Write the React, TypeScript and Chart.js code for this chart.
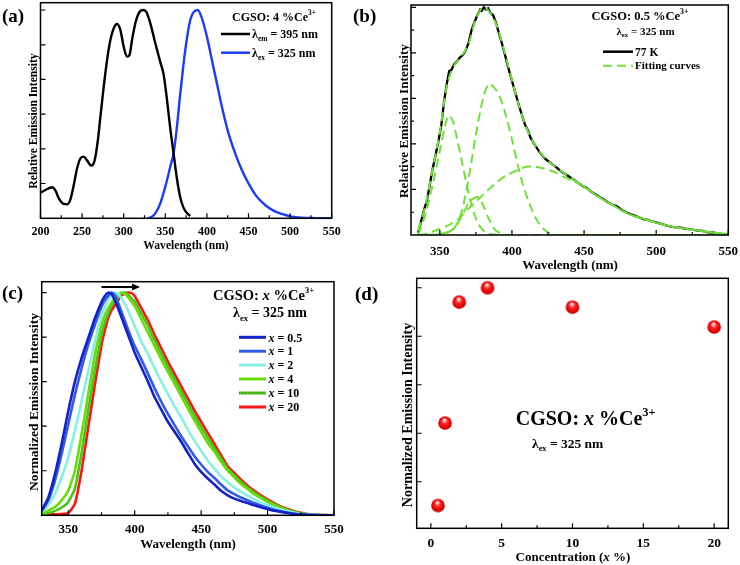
import React, { useEffect, useRef } from 'react';
import { Chart, registerables } from 'chart.js';
Chart.register(...registerables);

const W = 740;
const H = 565;
const XH = 30; // reserved height of the x-axis label band
const FONT = '"Liberation Serif", "Times New Roman", Times, serif';

// ---------------- Panel (a): excitation / emission ----------------
const aExcWl = [200, 206, 214, 218, 222, 228, 232, 236, 240, 244, 248, 252, 256, 261, 265, 269, 272, 276, 280, 284, 288, 292, 296, 300, 304, 307, 310, 314, 318, 323, 327, 332, 338, 344, 348, 352, 356, 360, 364, 368, 372, 376, 380];
const aExcInt = [0.123, 0.136, 0.149, 0.133, 0.096, 0.069, 0.067, 0.091, 0.16, 0.24, 0.288, 0.296, 0.277, 0.253, 0.277, 0.376, 0.488, 0.632, 0.76, 0.856, 0.912, 0.933, 0.904, 0.824, 0.776, 0.784, 0.856, 0.936, 0.984, 1.0, 0.992, 0.936, 0.84, 0.75, 0.69, 0.57, 0.43, 0.31, 0.19, 0.1, 0.05, 0.025, 0.011];
const aEmWl = [329, 334, 338, 344, 350, 356, 360, 364, 368, 372, 376, 380, 384, 389, 394, 400, 406, 412, 418, 426, 434, 442, 450, 460, 470, 480, 490, 502, 514, 530, 550];
const aEmInt = [0, 0.008, 0.024, 0.072, 0.152, 0.248, 0.312, 0.44, 0.6, 0.744, 0.864, 0.952, 0.99, 1.0, 0.96, 0.872, 0.76, 0.648, 0.536, 0.408, 0.312, 0.232, 0.168, 0.104, 0.064, 0.037, 0.021, 0.008, 0.003, 0.001, 0];
const aXLabels = [200, 250, 300, 350, 400, 450, 500, 550];
const aXMinor = [225, 275, 325, 375, 425, 475, 525];
const aYTicks = [0.167, 0.333, 0.5, 0.667, 0.833, 1.0];

// ---------------- Panel (b): 77 K spectrum and Gaussian fits ----------------
const bWl = [335, 337, 339, 341, 343, 345, 347, 349, 351, 353, 355, 356.5, 358, 360, 362, 364, 366, 368, 370, 372, 374, 376, 378, 379, 380.5, 382, 383.5, 385, 387, 389, 391, 393, 395, 397, 399, 401, 403, 405, 407, 409, 411, 413, 415, 417, 419, 421, 423, 425, 428, 431, 434, 437, 440, 443, 446, 449, 452, 455, 458, 461, 464, 467, 470, 473, 476, 479, 482, 485, 488, 491, 494, 497, 500, 504, 508, 512, 516, 520, 524, 528, 532, 536, 540, 544, 548, 550];
const b77K = [0.01, 0.06, 0.11, 0.15, 0.22, 0.29, 0.35, 0.41, 0.48, 0.59, 0.67, 0.72, 0.725, 0.75, 0.763, 0.78, 0.79, 0.812, 0.845, 0.9, 0.935, 0.965, 0.99, 0.985, 1.0, 0.99, 0.995, 0.975, 0.965, 0.93, 0.885, 0.842, 0.795, 0.745, 0.7, 0.655, 0.61, 0.565, 0.525, 0.485, 0.46, 0.425, 0.405, 0.385, 0.365, 0.35, 0.335, 0.325, 0.31, 0.296, 0.28, 0.268, 0.255, 0.243, 0.228, 0.215, 0.205, 0.19, 0.178, 0.166, 0.155, 0.142, 0.132, 0.125, 0.11, 0.1, 0.092, 0.085, 0.078, 0.07, 0.066, 0.06, 0.055, 0.048, 0.04, 0.035, 0.033, 0.028, 0.025, 0.02, 0.018, 0.012, 0.01, 0.006, 0.002, 0.0];
const bFitWl = [335, 340, 345, 350, 355, 360, 365, 370, 375, 380, 385, 390, 395, 400, 405, 410, 415, 420, 425, 430, 440, 450, 460, 470, 480, 490, 500, 510, 520, 530, 540, 550];
const bFitSum = [0.02, 0.13, 0.29, 0.45, 0.66, 0.745, 0.785, 0.84, 0.95, 1.0, 0.975, 0.91, 0.8, 0.68, 0.565, 0.47, 0.405, 0.36, 0.325, 0.3, 0.255, 0.212, 0.168, 0.131, 0.095, 0.073, 0.054, 0.038, 0.028, 0.019, 0.01, 0.004];
const bC1Wl = [335, 340, 345, 350, 353, 356, 359, 362, 365, 368, 371, 374, 377, 381, 386, 392, 400];
const bC1 = [0.0, 0.09, 0.22, 0.37, 0.46, 0.525, 0.5, 0.42, 0.33, 0.24, 0.155, 0.09, 0.045, 0.015, 0.003, 0, 0];
const bC2Wl = [340, 345, 350, 355, 360, 365, 370, 375, 380, 384, 388, 392, 396, 400, 404, 408, 412, 416, 420, 425, 431, 550];
const bC2 = [0, 0.002, 0.005, 0.012, 0.03, 0.1, 0.25, 0.44, 0.6, 0.664, 0.645, 0.6, 0.52, 0.42, 0.31, 0.212, 0.14, 0.08, 0.04, 0.012, 0, 0];
const bC3Wl = [335, 345, 350, 355, 360, 365, 370, 374, 377, 380, 384, 388, 392, 398, 550];
const bC3 = [0, 0, 0.003, 0.01, 0.03, 0.08, 0.14, 0.163, 0.165, 0.13, 0.07, 0.025, 0.008, 0, 0];
const bC4Wl = [335, 340, 348, 355, 362, 369, 376, 383, 390, 397, 404, 410, 416, 422, 430, 436, 443, 450, 460, 470, 480, 490, 500, 510, 520, 530, 540, 550];
const bC4 = [0, 0.005, 0.022, 0.04, 0.066, 0.11, 0.153, 0.195, 0.234, 0.265, 0.285, 0.3, 0.3, 0.292, 0.275, 0.255, 0.236, 0.212, 0.168, 0.131, 0.095, 0.073, 0.054, 0.038, 0.028, 0.019, 0.01, 0.004];
const bXLabels = [350, 400, 450, 500, 550];
const bXMinor = [375, 425, 475, 525];
const bYMajor = [0.2, 0.4, 0.6, 0.8, 1.0];
const bYMinor = [0.1, 0.3, 0.5, 0.7, 0.9];

// ---------------- Panel (c): normalized emission vs concentration ----------------
const cWl = [330, 335, 340, 345, 350, 355, 360, 365, 370, 375, 377.5, 380, 382.5, 385, 387.5, 390, 392.5, 395, 397.5, 400, 405, 410, 415, 420, 425, 430, 435, 440, 445, 450, 455, 460, 465, 470, 475, 480, 485, 490, 495, 500, 505, 510, 515, 520, 525, 530, 540, 550];
const cX05 = [0.02, 0.08, 0.186, 0.32, 0.468, 0.6, 0.706, 0.795, 0.884, 0.958, 0.985, 1.0, 0.995, 0.965, 0.93, 0.89, 0.85, 0.81, 0.77, 0.73, 0.665, 0.6, 0.53, 0.475, 0.42, 0.375, 0.33, 0.28, 0.232, 0.195, 0.165, 0.138, 0.11, 0.09, 0.075, 0.064, 0.055, 0.045, 0.036, 0.028, 0.02, 0.015, 0.01, 0.006, 0.003, 0.002, 0, 0];
const cX1 = [0.02, 0.067, 0.156, 0.275, 0.409, 0.542, 0.661, 0.765, 0.854, 0.936, 0.965, 0.985, 1.0, 0.99, 0.955, 0.915, 0.875, 0.835, 0.795, 0.76, 0.7, 0.635, 0.57, 0.51, 0.455, 0.405, 0.355, 0.31, 0.265, 0.228, 0.195, 0.168, 0.138, 0.112, 0.095, 0.08, 0.068, 0.055, 0.044, 0.034, 0.025, 0.018, 0.012, 0.007, 0.004, 0.002, 0, 0];
const cX2 = [0.015, 0.045, 0.097, 0.171, 0.26, 0.379, 0.513, 0.646, 0.78, 0.899, 0.935, 0.966, 0.99, 1.0, 0.995, 0.975, 0.95, 0.92, 0.885, 0.85, 0.78, 0.725, 0.66, 0.6, 0.545, 0.49, 0.44, 0.385, 0.335, 0.29, 0.245, 0.21, 0.175, 0.148, 0.125, 0.105, 0.088, 0.072, 0.058, 0.046, 0.035, 0.026, 0.018, 0.011, 0.006, 0.003, 0.001, 0];
const cX4 = [0.005, 0.022, 0.037, 0.067, 0.111, 0.2, 0.364, 0.542, 0.72, 0.854, 0.9, 0.929, 0.955, 0.973, 0.99, 1.0, 0.995, 0.98, 0.96, 0.94, 0.88, 0.82, 0.76, 0.7, 0.645, 0.59, 0.535, 0.48, 0.425, 0.375, 0.325, 0.285, 0.24, 0.2, 0.17, 0.14, 0.118, 0.095, 0.077, 0.06, 0.045, 0.033, 0.022, 0.014, 0.008, 0.004, 0.001, 0];
const cX10 = [0.002, 0.01, 0.02, 0.035, 0.06, 0.12, 0.28, 0.47, 0.65, 0.81, 0.865, 0.905, 0.94, 0.96, 0.98, 0.995, 1.0, 0.99, 0.975, 0.96, 0.905, 0.85, 0.785, 0.725, 0.667, 0.612, 0.557, 0.502, 0.447, 0.397, 0.347, 0.302, 0.255, 0.21, 0.18, 0.15, 0.125, 0.102, 0.083, 0.066, 0.05, 0.036, 0.025, 0.016, 0.009, 0.005, 0.001, 0];
const cX20 = [0, 0.005, 0.005, 0.006, 0.01, 0.052, 0.2, 0.394, 0.587, 0.765, 0.83, 0.884, 0.92, 0.943, 0.965, 0.988, 0.995, 1.0, 0.998, 0.985, 0.93, 0.875, 0.81, 0.75, 0.69, 0.635, 0.58, 0.525, 0.47, 0.42, 0.37, 0.32, 0.27, 0.22, 0.19, 0.16, 0.133, 0.11, 0.09, 0.072, 0.055, 0.04, 0.028, 0.018, 0.011, 0.006, 0.002, 0];
const cSeriesNames = ['0.5', '1', '2', '4', '10', '20'];
const cSeriesColors = ['#1420c8', '#2f5be6', '#86f0e4', '#66dd0a', '#4cc21a', '#ff1414'];
const cXLabels = [350, 400, 450, 500, 550];
const cXMinor = [375, 425, 475, 525];
const cYTicks = [0.2, 0.4, 0.6, 0.8, 1.0];

// ---------------- Panel (d): intensity vs concentration ----------------
const dConc = [0.5, 1, 2, 4, 10, 20];
const dIntensity = [0.102, 0.442, 0.941, 1.0, 0.92, 0.838];
const dXLabels = [0, 5, 10, 15, 20];
const dXMinor = [2.5, 7.5, 12.5, 17.5];
const dYTicks = [0.2, 0.4, 0.6, 0.8, 1.0];

// ---------------- helpers ----------------
const pts = (xs: number[], ys: number[]) => xs.map((x, i) => ({ x, y: ys[i] }));

type Seg = { t: string; it?: boolean; s?: 'sub' | 'sup' };
type Area = { l: number; t: number; r: number; b: number };

function rich(ctx: CanvasRenderingContext2D, segs: Seg[], x: number, y: number, size: number, align: 'left' | 'center' = 'left') {
  const f = (g: Seg) => `${g.it ? 'italic ' : ''}bold ${g.s ? size * 0.62 : size}px ${FONT}`;
  let w = 0;
  for (const g of segs) { ctx.font = f(g); w += ctx.measureText(g.t).width; }
  let cx = align === 'center' ? x - w / 2 : x;
  ctx.textAlign = 'left';
  ctx.textBaseline = 'alphabetic';
  ctx.fillStyle = '#000';
  for (const g of segs) {
    ctx.font = f(g);
    const dy = g.s === 'sub' ? size * 0.25 : g.s === 'sup' ? -size * 0.45 : 0;
    ctx.fillText(g.t, cx, y + dy);
    cx += ctx.measureText(g.t).width;
  }
}

function rotRich(ctx: CanvasRenderingContext2D, segs: Seg[], cx: number, cy: number, size: number) {
  ctx.save();
  ctx.translate(cx, cy);
  ctx.rotate(-Math.PI / 2);
  rich(ctx, segs, 0, size * 0.35, size, 'center');
  ctx.restore();
}

function swatch(ctx: CanvasRenderingContext2D, x1: number, x2: number, y: number, color: string, lw: number, dash: number[] = []) {
  ctx.save();
  ctx.strokeStyle = color;
  ctx.lineWidth = lw;
  ctx.setLineDash(dash);
  ctx.beginPath();
  ctx.moveTo(x1, y);
  ctx.lineTo(x2, y);
  ctx.stroke();
  ctx.restore();
}

function frameAndTicks(chart: any, xMaj: number[], xMin: number[], yMaj: number[], yMin: number[]) {
  const ctx: CanvasRenderingContext2D = chart.ctx;
  const a = chart.chartArea;
  const xs = chart.scales.x;
  const ys = chart.scales.y;
  ctx.save();
  ctx.strokeStyle = '#000';
  ctx.lineWidth = 1.2;
  ctx.beginPath();
  for (const v of xMaj) { const p = xs.getPixelForValue(v); ctx.moveTo(p, a.bottom); ctx.lineTo(p, a.bottom - 5); }
  for (const v of xMin) { const p = xs.getPixelForValue(v); ctx.moveTo(p, a.bottom); ctx.lineTo(p, a.bottom - 3); }
  for (const v of yMaj) { const p = ys.getPixelForValue(v); ctx.moveTo(a.left, p); ctx.lineTo(a.left + 5, p); }
  for (const v of yMin) { const p = ys.getPixelForValue(v); ctx.moveTo(a.left, p); ctx.lineTo(a.left + 3, p); }
  ctx.stroke();
  ctx.lineWidth = 1.5;
  ctx.strokeRect(a.left, a.top, a.right - a.left, a.bottom - a.top);
  ctx.restore();
}

function baseOptions(area: Area, xMin: number, xMax: number, yMin: number, yMax: number, xLabels: number[], labelSize: number, labelPad: number) {
  return {
    animation: false,
    responsive: false,
    maintainAspectRatio: false,
    events: [],
    layout: { padding: { left: area.l, top: area.t, right: W - area.r, bottom: H - area.b - XH } },
    plugins: { legend: { display: false }, tooltip: { enabled: false }, title: { display: false } },
    scales: {
      x: {
        type: 'linear', min: xMin, max: xMax,
        grid: { display: false, drawTicks: false, tickLength: 0 }, border: { display: false },
        ticks: { autoSkip: false, maxRotation: 0, minRotation: 0, color: '#000', padding: labelPad, font: { family: FONT, weight: 'bold', size: labelSize } },
        afterBuildTicks: (s: any) => { s.ticks = xLabels.map((v) => ({ value: v })); },
        afterFit: (s: any) => { s.height = XH; s.paddingLeft = 0; s.paddingRight = 0; },
      },
      y: {
        type: 'linear', min: yMin, max: yMax,
        grid: { display: false, drawTicks: false, tickLength: 0 }, border: { display: false },
        ticks: { display: false },
        afterFit: (s: any) => { s.width = 0; s.paddingTop = 0; s.paddingBottom = 0; },
      },
    },
  } as any;
}

function makeSphere(r: number) {
  const c = document.createElement('canvas');
  const s = Math.ceil(r * 2 + 2);
  c.width = s; c.height = s;
  const g = c.getContext('2d')!;
  const cx = s / 2, cy = s / 2;
  const grad = g.createRadialGradient(cx - r * 0.1, cy - r * 0.5, r * 0.05, cx, cy, r);
  grad.addColorStop(0, '#ffffff');
  grad.addColorStop(0.18, '#ff9a9a');
  grad.addColorStop(0.45, '#ff1c1c');
  grad.addColorStop(0.85, '#e00000');
  grad.addColorStop(1, '#b00000');
  g.fillStyle = grad;
  g.beginPath(); g.arc(cx, cy, r, 0, Math.PI * 2); g.fill();
  return c;
}

const AREA_A: Area = { l: 40.5, t: 2.7, r: 331.7, b: 218.3 };
const AREA_B: Area = { l: 411, t: 5, r: 728.3, b: 235 };
const AREA_C: Area = { l: 41.7, t: 281.7, r: 334, b: 515.3 };
const AREA_D: Area = { l: 416.7, t: 278.3, r: 728.3, b: 528.3 };

export default function App() {
  const ra = useRef<HTMLCanvasElement>(null);
  const rb = useRef<HTMLCanvasElement>(null);
  const rc = useRef<HTMLCanvasElement>(null);
  const rd = useRef<HTMLCanvasElement>(null);

  useEffect(() => {
    const charts: Chart[] = [];

    // ---- (a)
    charts.push(new Chart(ra.current!, {
      type: 'line',
      data: {
        datasets: [
          { data: pts(aExcWl, aExcInt), borderColor: '#000', borderWidth: 2.4, pointRadius: 0, cubicInterpolationMode: 'monotone' },
          { data: pts(aEmWl, aEmInt), borderColor: '#1f3cf5', borderWidth: 2.4, pointRadius: 0, cubicInterpolationMode: 'monotone' },
        ],
      } as any,
      options: baseOptions(AREA_A, 200, 550, 0, 1.035, aXLabels, 12, 6.5),
      plugins: [{
        id: 'ovA',
        afterDraw(chart: any) {
          const ctx = chart.ctx as CanvasRenderingContext2D;
          frameAndTicks(chart, aXLabels, aXMinor, aYTicks, []);
          ctx.save();
          rich(ctx, [{ t: '(a)' }], 2, 22, 19);
          rich(ctx, [{ t: 'CGSO: 4 %Ce' }, { t: '3+', s: 'sup' }], 232, 20.5, 12);
          swatch(ctx, 221, 250, 34, '#000', 2.5);
          rich(ctx, [{ t: 'λ' }, { t: 'em', s: 'sub' }, { t: ' = 395 nm' }], 252, 37.8, 12);
          swatch(ctx, 221, 250, 52.7, '#1f3cf5', 2.5);
          rich(ctx, [{ t: 'λ' }, { t: 'ex', s: 'sub' }, { t: ' = 325 nm' }], 252, 56.5, 12);
          rotRich(ctx, [{ t: 'Relative Emission Intensity' }], 33, 121, 11.6);
          rich(ctx, [{ t: 'Wavelength (nm)' }], 186, 249, 11.6, 'center');
          ctx.restore();
        },
      }],
    } as any));

    // ---- (b)
    const green = '#72e03a';
    const dashed = (xs: number[], ys: number[]) => ({ data: pts(xs, ys), borderColor: green, borderWidth: 2, borderDash: [9, 5], pointRadius: 0, tension: 0.3, order: 1 });
    charts.push(new Chart(rb.current!, {
      type: 'line',
      data: {
        datasets: [
          dashed(bFitWl, bFitSum),
          dashed(bC1Wl, bC1),
          dashed(bC2Wl, bC2),
          dashed(bC3Wl, bC3),
          dashed(bC4Wl, bC4),
          { data: pts(bWl, b77K), borderColor: '#000', borderWidth: 2.3, pointRadius: 0, tension: 0, order: 10 },
        ],
      } as any,
      options: baseOptions(AREA_B, 330, 550, 0, 1.01, bXLabels, 13, 9),
      plugins: [{
        id: 'ovB',
        afterDraw(chart: any) {
          const ctx = chart.ctx as CanvasRenderingContext2D;
          frameAndTicks(chart, bXLabels, bXMinor, bYMajor, bYMinor);
          ctx.save();
          rich(ctx, [{ t: '(b)' }], 353, 22, 19);
          rich(ctx, [{ t: 'CGSO: 0.5 %Ce' }, { t: '3+', s: 'sup' }], 640, 19.5, 12.5, 'center');
          rich(ctx, [{ t: 'λ' }, { t: 'ex', s: 'sub' }, { t: ' = 325 nm' }], 645.5, 34.5, 11, 'center');
          swatch(ctx, 603, 633, 51.7, '#000', 2.5);
          rich(ctx, [{ t: '77 K' }], 635, 55.5, 11.5);
          swatch(ctx, 603, 633, 65.7, green, 2, [9, 5]);
          rich(ctx, [{ t: 'Fitting curves' }], 635, 69.3, 11);
          rotRich(ctx, [{ t: 'Relative Emission Intensity' }], 403, 121, 13.2);
          rich(ctx, [{ t: 'Wavelength (nm)' }], 570, 268.5, 13, 'center');
          ctx.restore();
        },
      }],
    } as any));

    // ---- (c)
    const cVals = [cX05, cX1, cX2, cX4, cX10, cX20];
    charts.push(new Chart(rc.current!, {
      type: 'line',
      data: {
        datasets: cVals.map((v, i) => ({
          data: pts(cWl, v), borderColor: cSeriesColors[i], borderWidth: 2.6, pointRadius: 0, tension: 0.15,
        })),
      } as any,
      options: baseOptions(AREA_C, 330, 550, 0, 1.049, cXLabels, 13, 7),
      plugins: [{
        id: 'ovC',
        afterDraw(chart: any) {
          const ctx = chart.ctx as CanvasRenderingContext2D;
          const xs = chart.scales.x;
          const ys = chart.scales.y;
          frameAndTicks(chart, cXLabels, cXMinor, cYTicks, []);
          ctx.save();
          const x1 = xs.getPixelForValue(375);
          const x2 = xs.getPixelForValue(404);
          const ya = ys.getPixelForValue(1.025);
          ctx.strokeStyle = '#000'; ctx.fillStyle = '#000'; ctx.lineWidth = 2;
          ctx.beginPath(); ctx.moveTo(x1, ya); ctx.lineTo(x2 - 6, ya); ctx.stroke();
          ctx.beginPath(); ctx.moveTo(x2, ya); ctx.lineTo(x2 - 8, ya - 3.5); ctx.lineTo(x2 - 8, ya + 3.5); ctx.closePath(); ctx.fill();
          rich(ctx, [{ t: '(c)' }], 2, 299, 19);
          rich(ctx, [{ t: 'CGSO: ' }, { t: 'x', it: true }, { t: ' %Ce' }, { t: '3+', s: 'sup' }], 213, 299.5, 14.5);
          rich(ctx, [{ t: 'λ' }, { t: 'ex', s: 'sub' }, { t: ' = 325 nm' }], 233, 317, 14);
          const rows = [337.3, 351.2, 365.1, 379, 393, 407];
          rows.forEach((y, i) => {
            swatch(ctx, 239, 266, y, cSeriesColors[i], 3);
            if (cSeriesNames[i] === '10') swatch(ctx, 239, 266, y, '#2a7a10', 1.2, [1, 2]);
            rich(ctx, [{ t: 'x', it: true }, { t: ' = ' + cSeriesNames[i] }], 268.5, y + 4.2, 12);
          });
          rotRich(ctx, [{ t: 'Normalized Emission Intensity' }], 33, 402, 13.5);
          rich(ctx, [{ t: 'Wavelength (nm)' }], 188, 547.5, 13, 'center');
          ctx.restore();
        },
      }],
    } as any));

    // ---- (d)
    const sphere = makeSphere(6.8);
    charts.push(new Chart(rd.current!, {
      type: 'scatter',
      data: {
        datasets: [{ data: pts(dConc, dIntensity), pointStyle: sphere, pointRadius: 7, showLine: false }],
      } as any,
      options: baseOptions(AREA_D, -1, 21, 0.008, 1.039, dXLabels, 13.5, 7.5),
      plugins: [{
        id: 'ovD',
        afterDraw(chart: any) {
          const ctx = chart.ctx as CanvasRenderingContext2D;
          frameAndTicks(chart, dXLabels, dXMinor, dYTicks, []);
          ctx.save();
          rich(ctx, [{ t: '(d)' }], 355, 300, 19);
          rich(ctx, [{ t: 'CGSO: ' }, { t: 'x', it: true }, { t: ' %Ce' }, { t: '3+', s: 'sup' }], 515.7, 425, 20);
          rich(ctx, [{ t: 'λ' }, { t: 'ex', s: 'sub' }, { t: ' = 325 nm' }], 532, 447.5, 13.5);
          rotRich(ctx, [{ t: 'Normalized Emission Intensity' }], 407, 415, 14);
          rich(ctx, [{ t: 'Concentration (' }, { t: 'x', it: true }, { t: ' %)' }], 573, 560.5, 13, 'center');
          ctx.restore();
        },
      }],
    } as any));

    return () => { charts.forEach((c) => c.destroy()); };
  }, []);

  const cs: React.CSSProperties = { position: 'absolute', left: 0, top: 0, width: W, height: H };
  return (
    <div style={{ position: 'absolute', left: 0, top: 0, width: W, height: H, background: '#fff', overflow: 'hidden' }}>
      <canvas ref={ra} width={W} height={H} style={cs} />
      <canvas ref={rb} width={W} height={H} style={cs} />
      <canvas ref={rc} width={W} height={H} style={cs} />
      <canvas ref={rd} width={W} height={H} style={cs} />
    </div>
  );
}
